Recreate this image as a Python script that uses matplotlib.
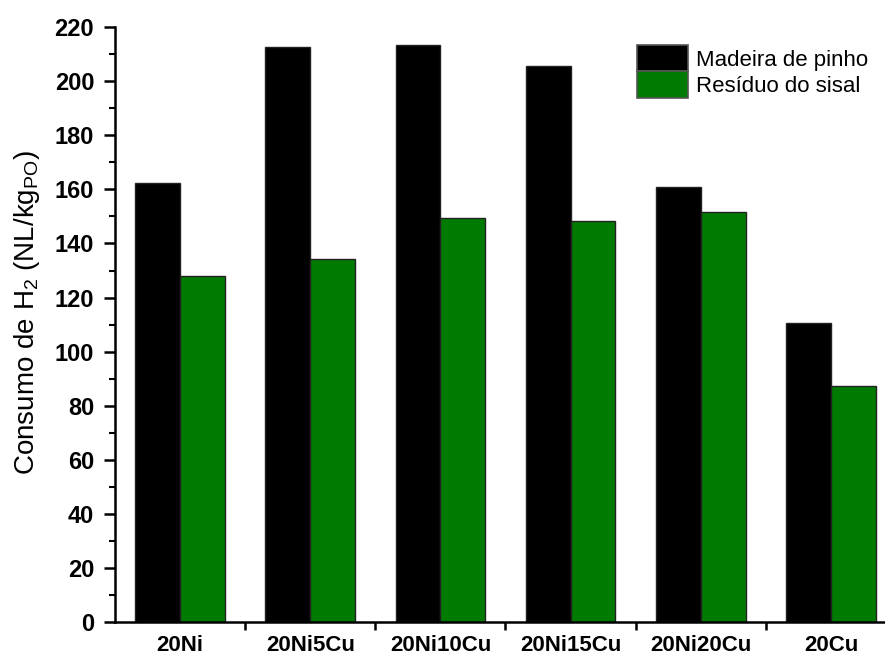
import matplotlib
matplotlib.use("Agg")
import matplotlib.pyplot as plt
import numpy as np
from matplotlib.ticker import FixedLocator, MultipleLocator

plt.rcParams['font.family'] = ['Liberation Sans', 'DejaVu Sans']
plt.rcParams['mathtext.default'] = 'regular'

catalysts = ["20Ni", "20Ni5Cu", "20Ni10Cu", "20Ni15Cu", "20Ni20Cu", "20Cu"]
pinho = [162.3, 212.4, 213.3, 205.4, 160.9, 110.6]
sisal = [128.0, 134.2, 149.3, 148.3, 151.5, 87.3]
series_names = ["Madeira de pinho", "Resíduo do sisal"]

fig = plt.figure(figsize=(8.85, 6.57), dpi=100)
ax = fig.add_axes([115 / 885, 1 - 622.4 / 657, (896 - 115) / 885, (622.4 - 26.9) / 657])

x = np.arange(len(catalysts))
w = 0.345
ax.bar(x - w / 2, pinho, w, color="black", edgecolor="#222222", linewidth=1, label=series_names[0])
ax.bar(x + w / 2, sisal, w, color="#007A00", edgecolor="#222222", linewidth=1, label=series_names[1])

ax.set_xlim(-0.5, len(catalysts) - 0.5)
ax.set_ylim(0, 220)

for s in ("top", "right"):
    ax.spines[s].set_visible(False)
for s in ("left", "bottom"):
    ax.spines[s].set_linewidth(1.8)

# major ticks at the category boundaries, labels centred under each group
ax.xaxis.set_major_locator(FixedLocator(np.arange(0.5, len(catalysts) - 0.5, 1.0)))
ax.xaxis.set_major_formatter(plt.NullFormatter())
ax.xaxis.set_minor_locator(FixedLocator(x))
ax.set_xticklabels(catalysts, minor=True, fontsize=16, fontweight="bold")
ax.tick_params(axis="x", which="major", direction="out", length=6, width=1.8)
ax.tick_params(axis="x", which="minor", length=0, pad=9)

ax.yaxis.set_major_locator(MultipleLocator(20))
ax.yaxis.set_minor_locator(MultipleLocator(10))
ax.tick_params(axis="y", which="major", direction="out", length=8, width=1.8, pad=7, labelsize=17)
ax.tick_params(axis="y", which="minor", direction="out", length=4, width=1.5)
for lbl in ax.get_yticklabels():
    lbl.set_fontweight("bold")

ax.set_ylabel("Consumo de H$_2$ (NL/kg$_{PO}$)", fontsize=20)
ax.yaxis.set_label_coords(-0.094, 0.52)

leg = ax.legend(loc="upper left", bbox_to_anchor=(637 / 885, 1 - 45 / 657),
                bbox_transform=fig.transFigure, frameon=False, fontsize=16,
                handlelength=2.3, handleheight=1.45, labelspacing=0.0,
                handletextpad=0.35, borderpad=0.0, borderaxespad=0.0)
for h in leg.legend_handles:
    h.set_edgecolor("#555555")
    h.set_linewidth(1.2)

fig.savefig("out.png", dpi=100)
